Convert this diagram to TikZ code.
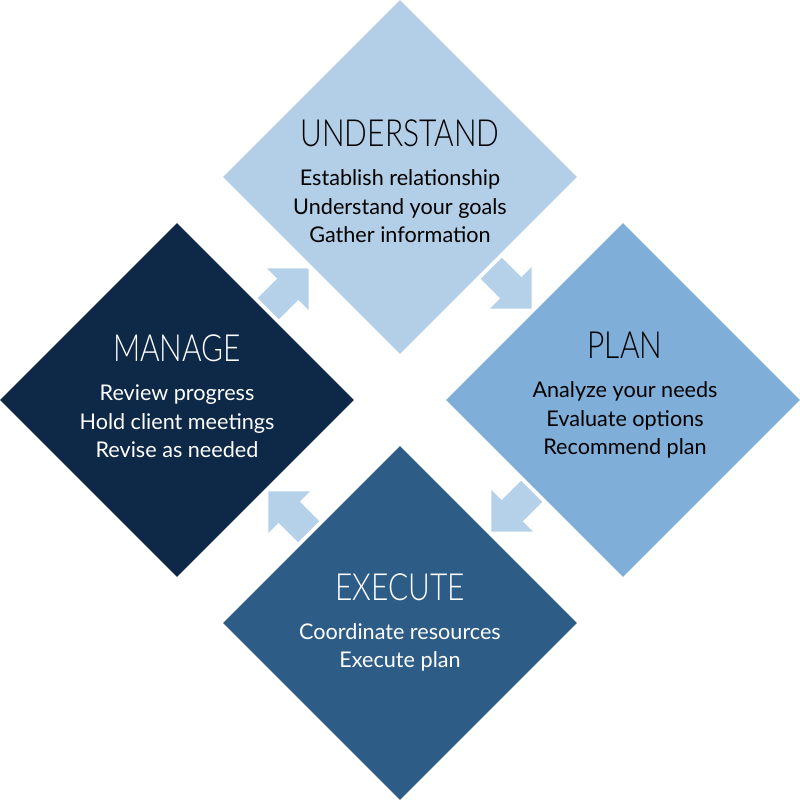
\documentclass[tikz,border=0pt]{standalone}
\usepackage{fontspec}
\setmainfont{Lato}
\newfontfamily\headfont[FakeStretch=0.8]{Lato Light}
\usetikzlibrary{calc,shapes.geometric}
\definecolor{understandblue}{RGB}{179,207,232}
\definecolor{planblue}{RGB}{127,174,216}
\definecolor{executeblue}{RGB}{45,92,135}
\definecolor{managenavy}{RGB}{14,41,72}
\definecolor{arrowblue}{RGB}{180,209,233}
\tikzset{
	stage/.style={shape=diamond, minimum width=7.08cm, minimum height=7.08cm, inner sep=0pt, fill=#1},
	headtext/.style={font=\headfont\fontsize{21.3}{24}\selectfont, inner sep=0pt, anchor=base},
	linetext/.style={font=\fontsize{12.3}{16.4}\selectfont, align=center, inner sep=0pt, anchor=base},
	flowarrow/.style={fill=arrowblue}
}

\begin{document}
\begin{tikzpicture}[x=0.02cm, y=0.02cm]
		%%%%% FRAME %%%%%
		\useasboundingbox (0, 0) rectangle (800, 800);
		
		%%%%% DIAMONDS %%%%%
		\node[stage=understandblue] (understand) at (400, 623) {};
		\node[stage=planblue] (plan) at (623, 400) {};
		\node[stage=executeblue] (execute) at (400, 177) {};
		\node[stage=managenavy] (manage) at (177, 400) {};
		
		%%%%% TEXT %%%%%
		% base of a body node is its last line
		\node[headtext] (understand-head) at ($(understand)+(0, 30)$) {UNDERSTAND};
		\node[linetext] (understand-lines) at ($(understand-head.base)+(0, -96)$) {Establish relationship\\Understand your goals\\Gather information};
		
		\node[headtext] (plan-head) at ($(plan)+(2, 41)$) {PLAN};
		\node[linetext] (plan-lines) at ($(plan-head.base)+(0, -96)$) {Analyze your needs\\Evaluate options\\Recommend plan};
		
		\node[headtext, text=white] (execute-head) at ($(execute)+(0, 22)$) {EXECUTE};
		\node[linetext, text=white] (execute-lines) at ($(execute-head.base)+(0, -67)$) {Coordinate resources\\Execute plan};
		
		\node[headtext, text=white] (manage-head) at ($(manage)+(0, 38)$) {MANAGE};
		\node[linetext, text=white] (manage-lines) at ($(manage-head.base)+(0, -96)$) {Review progress\\Hold client meetings\\Revise as needed};
		
		%%%%% ARROWS %%%%%
		\foreach \from/\to/\ang in {manage/understand/45, understand/plan/-45, plan/execute/-135, execute/manage/135}
			\fill[flowarrow, shift={($(\from)!0.5!(\to)$)}, rotate=\ang] (28.5, 0) -- (-1, 29.5) -- (-1, 15) -- (-28.5, 15) -- (-28.5, -15) -- (-1, -15) -- (-1, -29.5) -- cycle;
		
\end{tikzpicture}
\end{document}
